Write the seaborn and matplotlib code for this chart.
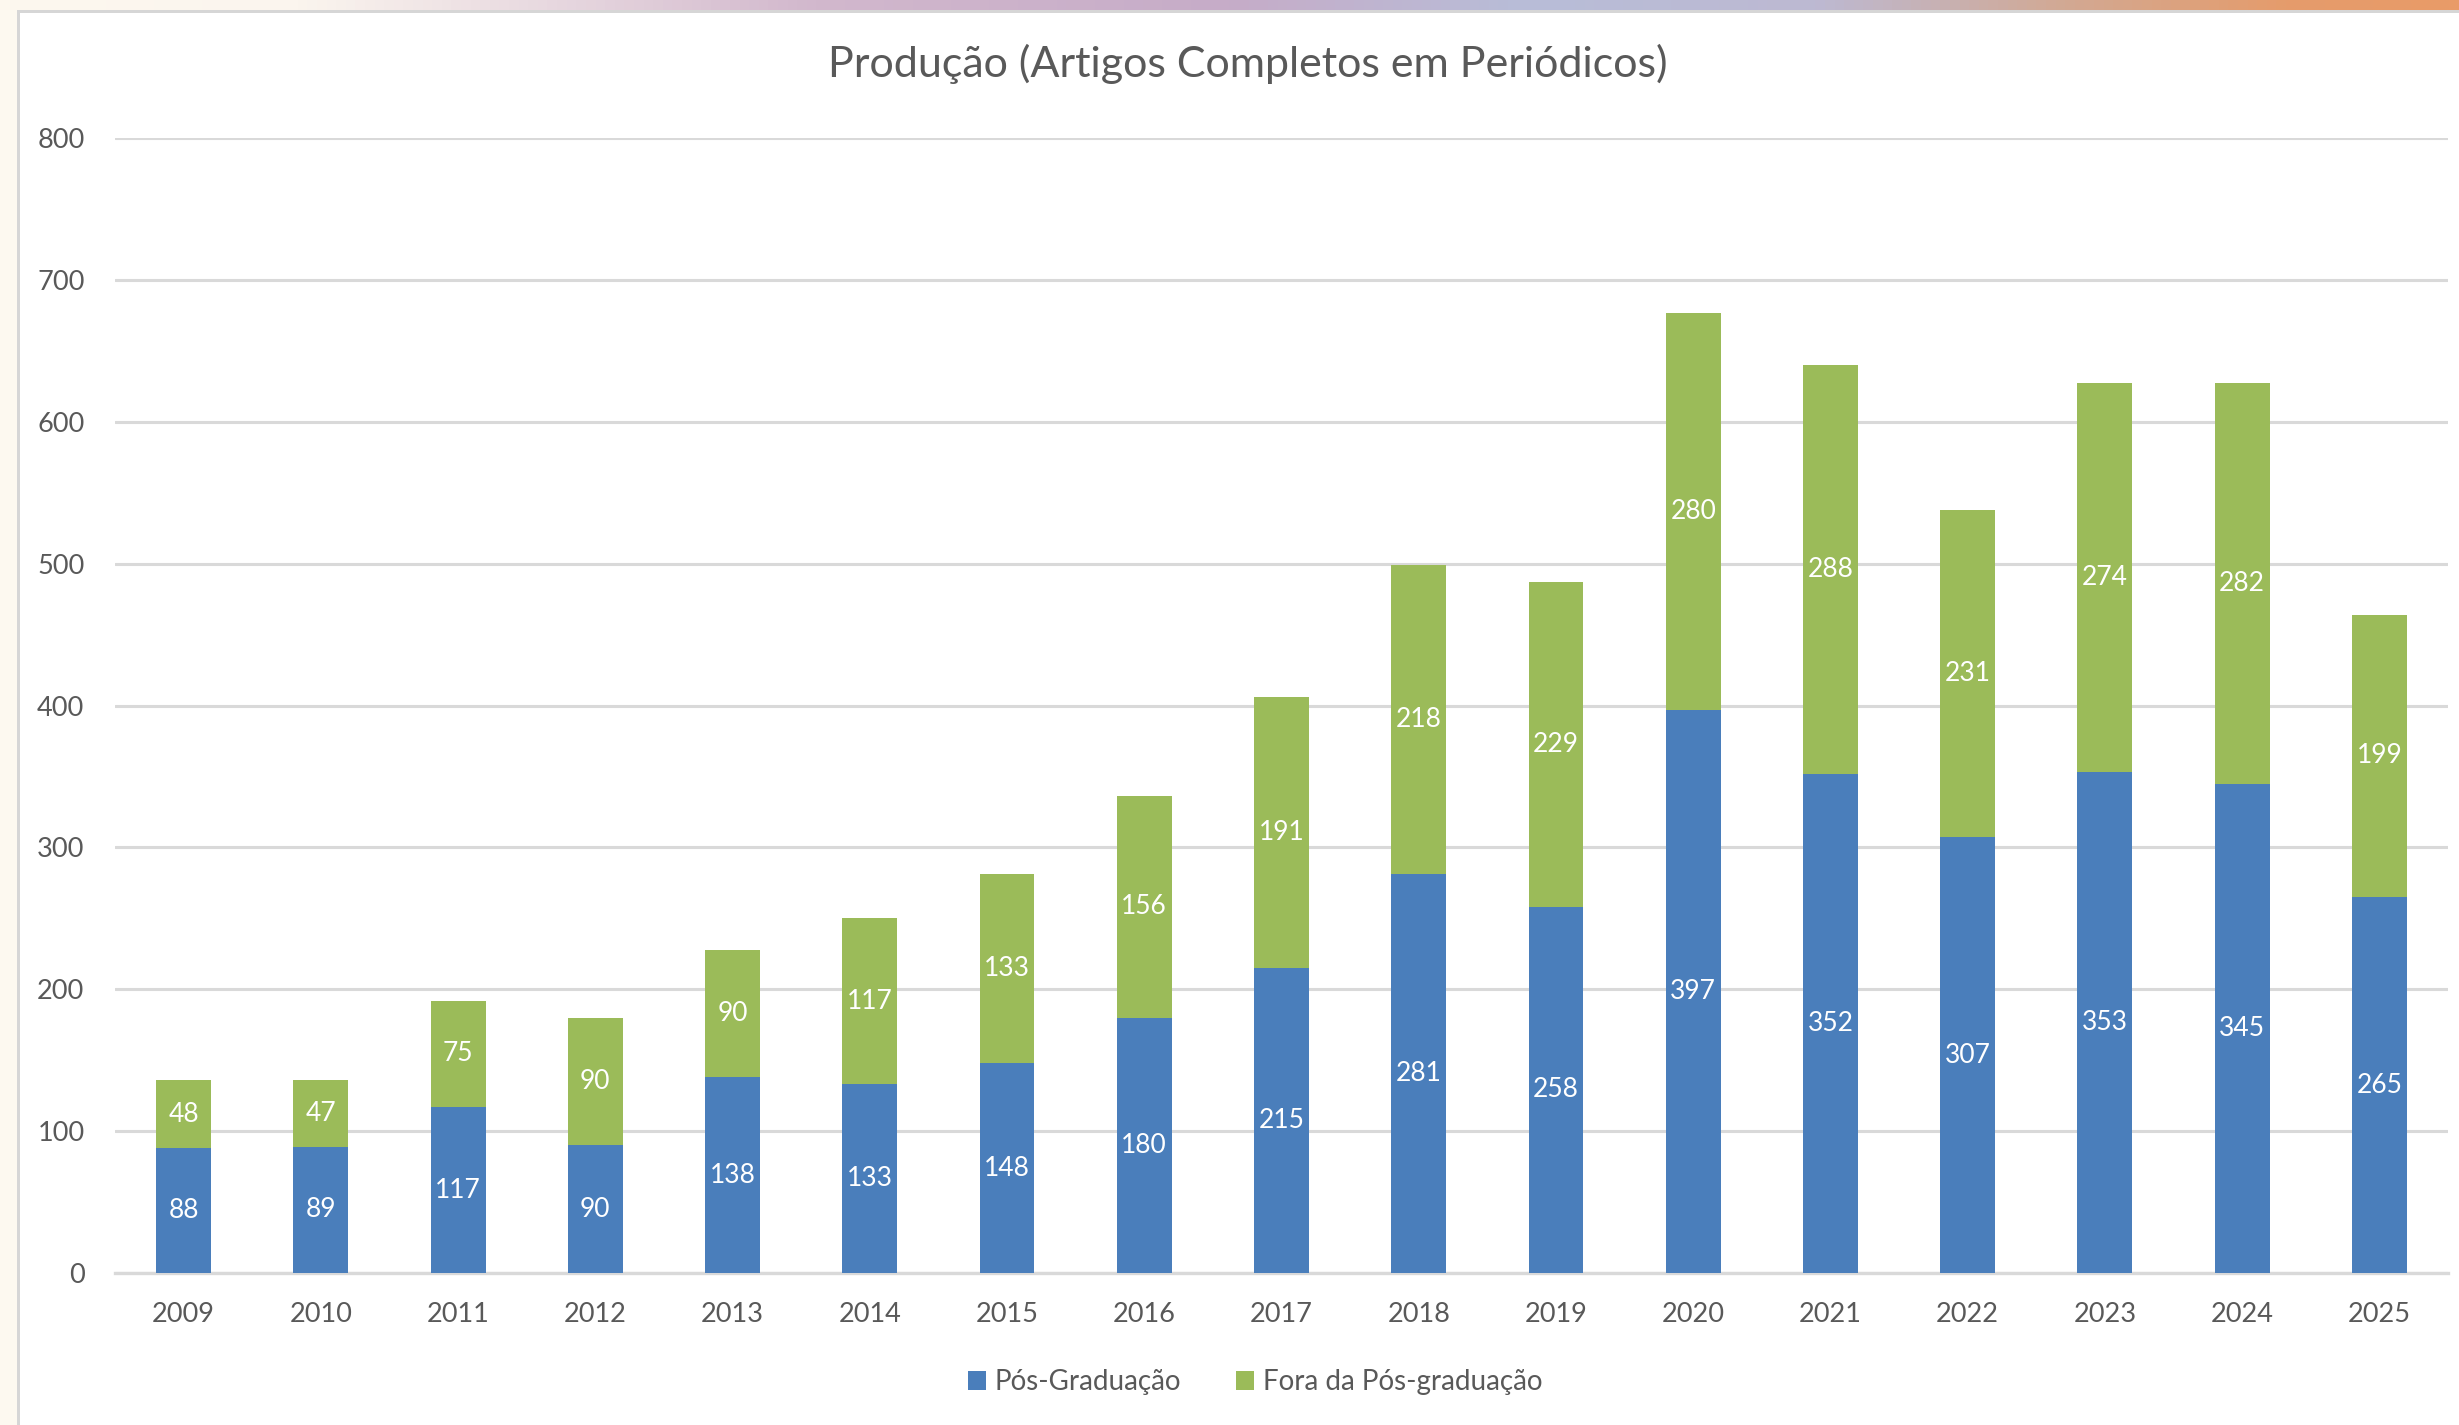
import numpy as np
import matplotlib
matplotlib.use("Agg")
import matplotlib.pyplot as plt
from matplotlib.colors import LinearSegmentedColormap
from matplotlib.patches import Patch, Rectangle
import seaborn as sns

anos = [str(a) for a in range(2009, 2026)]
pos_grad = [88, 89, 117, 90, 138, 133, 148, 180, 215, 281, 258, 397, 352, 307, 353, 345, 265]
fora_pos = [48, 47, 75, 90, 90, 117, 133, 156, 191, 218, 229, 280, 288, 231, 274, 282, 199]
series = ["Pós-Graduação", "Fora da Pós-graduação"]
titulo = "Produção (Artigos Completos em Periódicos)"

azul = "#4a7ebb"
verde = "#9bbb59"
cinza_txt = "#595959"
cinza_grid = "#d9d9d9"

sns.set_style("white")
plt.rcParams["font.family"] = ["Lato", "DejaVu Sans"]

W, H = 2459, 1425
fig = plt.figure(figsize=(W / 100, H / 100), dpi=100)

# moldura do print (faixa superior com gradiente e lateral creme)
bg = fig.add_axes([0, 0, 1, 1], zorder=-10)
bg.set_xlim(0, W)
bg.set_ylim(H, 0)
bg.axis("off")
grad = LinearSegmentedColormap.from_list("faixa", [
    (0.0, "#fdf8ee"), (0.12, "#fbf5ee"), (0.22, "#e8d9e0"), (0.33, "#d2b8cd"),
    (0.5, "#c6acc8"), (0.62, "#b8bdd8"), (0.74, "#bdb9d2"), (0.84, "#d2a994"),
    (0.93, "#e59c6c"), (1.0, "#e99b68")])
bg.imshow(np.linspace(0, 1, 256)[None, :], cmap=grad, aspect="auto",
          extent=[0, W, 10, 0])
bg.add_patch(Rectangle((0, 10), 17, H, color="#fdf9f0", lw=0))
bg.add_patch(Rectangle((17, 10), W, 3, color="#d6d6d6", lw=0))
bg.add_patch(Rectangle((17, 10), 3, H, color="#d6d6d6", lw=0))

ax = fig.add_axes([115 / W, 1 - 1273 / H, (2448 - 115) / W, (1273 - 138) / H])

totais = [p + f for p, f in zip(pos_grad, fora_pos)]
sns.barplot(x=anos, y=totais, color=verde, saturation=1, width=0.4, ax=ax,
            zorder=3, linewidth=0)
sns.barplot(x=anos, y=pos_grad, color=azul, saturation=1, width=0.4, ax=ax,
            zorder=3, linewidth=0)

for i, (p, f) in enumerate(zip(pos_grad, fora_pos)):
    ax.text(i, p / 2, str(p), ha="center", va="center", color="white", fontsize=19, zorder=5)
    ax.text(i, p + f / 2, str(f), ha="center", va="center", color="white", fontsize=19, zorder=5)

ax.set_ylim(0, 800)
ax.set_xlim(-0.5, 16.5)
ax.set_yticks(range(0, 801, 100))
ax.yaxis.grid(True, color=cinza_grid, lw=2.2)
ax.set_axisbelow(True)
for s in ["top", "right", "left"]:
    ax.spines[s].set_visible(False)
ax.spines["bottom"].set_color(cinza_grid)
ax.spines["bottom"].set_linewidth(2.4)
ax.tick_params(axis="both", length=0, labelsize=19.5, labelcolor=cinza_txt)
ax.tick_params(axis="y", pad=22)
ax.tick_params(axis="x", pad=21)
ax.set_xlabel("")
ax.set_ylabel("")

fig.text(1248 / W, 1 - 64 / H, titulo, ha="center", va="center",
         fontsize=31, color=cinza_txt)

handles = [Patch(facecolor=azul, edgecolor="none"), Patch(facecolor=verde, edgecolor="none")]
fig.legend(handles, series, loc="center", bbox_to_anchor=(1255 / W, 1 - 1382 / H),
           ncol=2, frameon=False, fontsize=20, labelcolor=cinza_txt,
           handlelength=0.65, handleheight=0.65, handletextpad=0.3, columnspacing=2.0)

fig.savefig("out.png", dpi=100)
